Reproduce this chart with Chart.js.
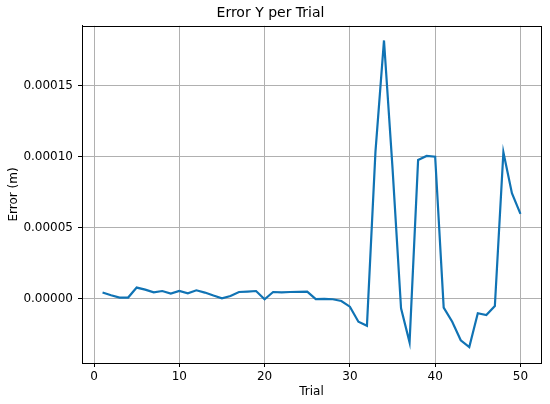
<!DOCTYPE html>
<html>
<head>
<meta charset="utf-8">
<script src="https://cdn.jsdelivr.net/npm/chart.js@4.4.1/dist/chart.umd.min.js"></script>
<style>
  html, body { margin: 0; padding: 0; background: #fff; }
  #wrap { width: 550px; height: 404px; }
</style>
</head>
<body>
<div id="wrap"><canvas id="errChart" width="550" height="404"></canvas></div>
<script>
// Data
const trials = [];
for (let t = 1; t <= 50; t++) trials.push(t);

const errorY = [
    4.5e-6, 2.6e-6, 1.0e-6, 1.0e-6, 8.0e-6, 6.6e-6, 4.7e-6, 5.6e-6, 3.8e-6, 5.6e-6,
    4.0e-6, 6.1e-6, 4.5e-6, 2.4e-6, 0.5e-6, 2.1e-6, 4.9e-6, 5.2e-6, 5.6e-6, -0.2e-6,
    4.9e-6, 4.7e-6, 4.9e-6, 5.0e-6, 5.2e-6, -0.1e-6, 0.0, -0.2e-6, -1.4e-6, -5.4e-6,
    -1.6e-5, -1.88e-5, 1.036e-4, 1.817e-4, 9.2e-5, -6.6e-6, -3.05e-5, 9.77e-5, 1.005e-4, 1.0e-4,
    -6.1e-6, -1.6e-5, -2.9e-5, -3.38e-5, -1.0e-5, -1.13e-5, -4.9e-6, 1.031e-4, 7.43e-5, 5.98e-5
];

const xTicks = [0, 10, 20, 30, 40, 50];
const yTicks = [0, 0.00005, 0.00010, 0.00015];

const FONT = "'DejaVu Sans', sans-serif";

// Draws the closed axes box like matplotlib
const frameBox = {
    id: 'frameBox',
    afterDraw(chart) {
        const { ctx, chartArea: a } = chart;
        ctx.save();
        ctx.strokeStyle = '#000';
        ctx.lineWidth = 1;
        ctx.strokeRect(Math.round(a.left) + 0.5, Math.round(a.top) + 0.5,
            Math.round(a.right - a.left), Math.round(a.bottom - a.top));
        ctx.restore();
    }
};

const ctx = document.getElementById('errChart').getContext('2d');
new Chart(ctx, {
    type: 'line',
    data: {
        datasets: [{
            data: trials.map((t, i) => ({ x: t, y: errorY[i] })),
            borderColor: '#1073b4',
            borderWidth: 2.2,
            pointRadius: 0,
            tension: 0,
            fill: false
        }]
    },
    options: {
        responsive: false,
        animation: false,
        layout: { padding: { left: 0, right: 9, top: 0, bottom: 0 } },
        plugins: {
            legend: { display: false },
            tooltip: { enabled: false },
            title: {
                display: true,
                text: 'Error Y per Trial',
                color: '#000',
                font: { family: FONT, size: 14, weight: 'normal' },
                padding: { top: 5, bottom: 4 }
            }
        },
        scales: {
            x: {
                type: 'linear',
                min: -1.41,
                max: 52.41,
                afterBuildTicks: (scale) => { scale.ticks = xTicks.map(v => ({ value: v })); },
                afterFit: (scale) => { scale.height = 41; },
                ticks: {
                    color: '#000',
                    font: { family: FONT, size: 12 },
                    padding: 3,
                    maxRotation: 0,
                    callback: (v) => String(v)
                },
                grid: { color: '#b0b0b0', lineWidth: 1, tickColor: '#000', tickLength: 4 },
                border: { color: '#000' },
                title: {
                    display: true,
                    text: 'Trial',
                    color: '#000',
                    font: { family: FONT, size: 12 },
                    padding: { top: 2, bottom: 5 }
                }
            },
            y: {
                type: 'linear',
                min: -4.5e-5,
                max: 1.92e-4,
                afterBuildTicks: (scale) => { scale.ticks = yTicks.map(v => ({ value: v })); },
                afterFit: (scale) => { scale.width = 82; },
                ticks: {
                    color: '#000',
                    font: { family: FONT, size: 12 },
                    padding: 5,
                    callback: (v) => Number(v).toFixed(5)
                },
                grid: { color: '#b0b0b0', lineWidth: 1, tickColor: '#000', tickLength: 4 },
                border: { color: '#000' },
                title: {
                    display: true,
                    text: 'Error (m)',
                    color: '#000',
                    font: { family: FONT, size: 12 },
                    padding: { top: 7, bottom: 0 }
                }
            }
        }
    },
    plugins: [frameBox]
});
</script>
</body>
</html>
